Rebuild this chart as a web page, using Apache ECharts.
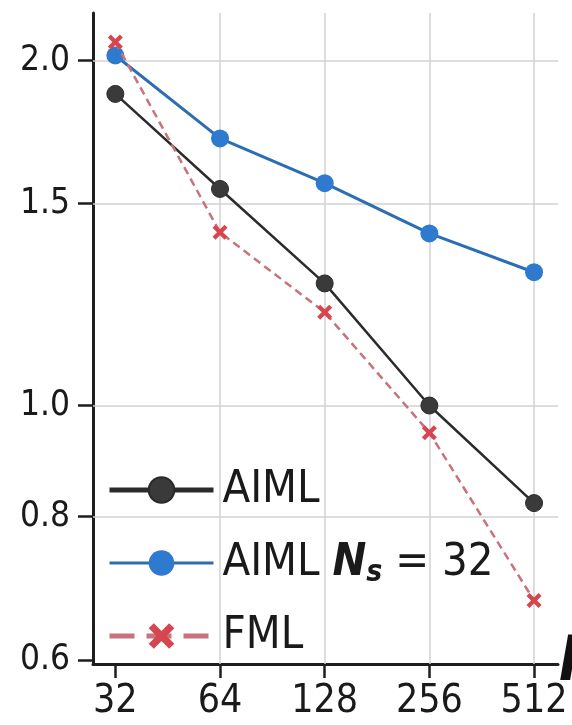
<!DOCTYPE html>
<html><head><meta charset="utf-8">
<script src="https://cdn.jsdelivr.net/npm/echarts@6/dist/echarts.min.js"></script>
<style>html,body{margin:0;padding:0;background:#fff}#c{width:572px;height:725px}</style>
</head><body><div id="c"></div>
<script>
const FONT = "'Liberation Sans Narrow','DejaVu Sans Condensed','Arial Narrow',sans-serif";

// Data
const xValues = [32, 64, 128, 256, 512];
const xTicks = [32, 64, 128, 256, 512];
const yTicks = [0.6, 0.8, 1.0, 1.5, 2.0];
const xGrid = [64, 128, 256, 512];
const yGrid = [0.8, 1.0, 1.5, 2.0];
const aiml = [1.87, 1.545, 1.278, 1.0, 0.822];
const aimlNs32 = [2.02, 1.71, 1.563, 1.413, 1.307];
const fml = [2.076, 1.416, 1.206, 0.947, 0.676];
const names = ['AIML', 'AIML Ns = 32', 'FML'];

const pairs = arr => xValues.map((x, i) => [x, arr[i]]);
const XPATH = 'path://M2,0L5,3L8,0L10,2L7,5L10,8L8,10L5,7L2,10L0,8L3,5L0,2Z';
const gridLine = {color: '#d2d2d2', width: 1.5, type: 'solid'};

const chart = echarts.init(document.getElementById('c'), null, {renderer: 'canvas'});
chart.setOption({
  animation: false,
  backgroundColor: '#ffffff',
  grid: {left: 93, right: 14, top: 13, bottom: 61, containLabel: false, outerBoundsMode: 'none'},
  xAxis: {
    type: 'log', logBase: 2, min: 27.6, max: 600,
    name: 'N', nameLocation: 'end', nameGap: 1, nameMoveOverlap: false,
    nameTextStyle: {fontFamily: FONT, fontStyle: 'italic', fontWeight: 'bold', fontSize: 62, color: '#111',
      align: 'left', verticalAlign: 'middle'},
    axisLine: {show: true, lineStyle: {color: '#1e1e1e', width: 3}},
    axisTick: {show: true, customValues: xTicks, length: 14, inside: false, lineStyle: {color: '#1e1e1e', width: 2.5}},
    axisLabel: {customValues: xTicks, margin: 18, fontFamily: FONT, fontSize: 39, color: '#1a1a1a',
      formatter: v => String(Math.round(v))},
    splitLine: {show: false}
  },
  yAxis: {
    type: 'log', logBase: 10, min: 0.595, max: 2.2,
    axisLine: {show: true, lineStyle: {color: '#1e1e1e', width: 3}},
    axisTick: {show: true, customValues: yTicks, length: 15, lineStyle: {color: '#1e1e1e', width: 2.5}},
    axisLabel: {customValues: yTicks, margin: 23, fontFamily: FONT, fontSize: 35, color: '#1a1a1a',
      formatter: v => Number(v).toFixed(1)},
    splitLine: {show: false}
  },
  legend: {
    orient: 'vertical', left: 107, top: 465, padding: 0,
    itemWidth: 104, itemHeight: 32, itemGap: 23,
    textStyle: {fontFamily: FONT, fontSize: 45, color: '#1a1a1a', lineHeight: 50, padding: [0, 0, 0, 4],
      rich: {
        a: {fontFamily: FONT, fontSize: 45, color: '#1a1a1a', lineHeight: 50},
        n: {fontFamily: FONT, fontSize: 45, fontStyle: 'italic', fontWeight: 'bold', color: '#1a1a1a', lineHeight: 50},
        s: {fontFamily: FONT, fontSize: 30, fontStyle: 'italic', fontWeight: 'bold', color: '#1a1a1a', lineHeight: 14, verticalAlign: 'bottom'}
      }},
    formatter: name => name === 'AIML Ns = 32' ? '{a|AIML }{n|N}{s|s}{a| = 32}' : '{a|' + name + '}',
    data: [
      {name: names[0], lineStyle: {width: 5}},
      {name: names[1], lineStyle: {width: 3}},
      {name: names[2], lineStyle: {width: 5, type: [25, 12]}}
    ]
  },
  series: [
    {
      name: names[0], type: 'line', data: pairs(aiml),
      symbol: 'circle', symbolSize: 17, z: 3,
      lineStyle: {color: '#2b2b2b', width: 2.5},
      itemStyle: {color: '#3a3a3a', borderColor: '#2a2a2a', borderWidth: 1},
      markLine: {
        silent: true, symbol: 'none', z: 1, animation: false,
        label: {show: false}, lineStyle: gridLine,
        data: xGrid.map(v => ({xAxis: v})).concat(yGrid.map(v => ({yAxis: v})))
      }
    },
    {
      name: names[1], type: 'line', data: pairs(aimlNs32),
      symbol: 'circle', symbolSize: 18, z: 4,
      lineStyle: {color: '#2c6db3', width: 3},
      itemStyle: {color: '#2d7ace'}
    },
    {
      name: names[2], type: 'line', data: pairs(fml),
      symbol: XPATH, symbolSize: 15, z: 5,
      lineStyle: {color: '#c8737b', width: 2.5, type: [8, 5]},
      itemStyle: {color: '#d6464e'}
    }
  ]
});
</script></body></html>
